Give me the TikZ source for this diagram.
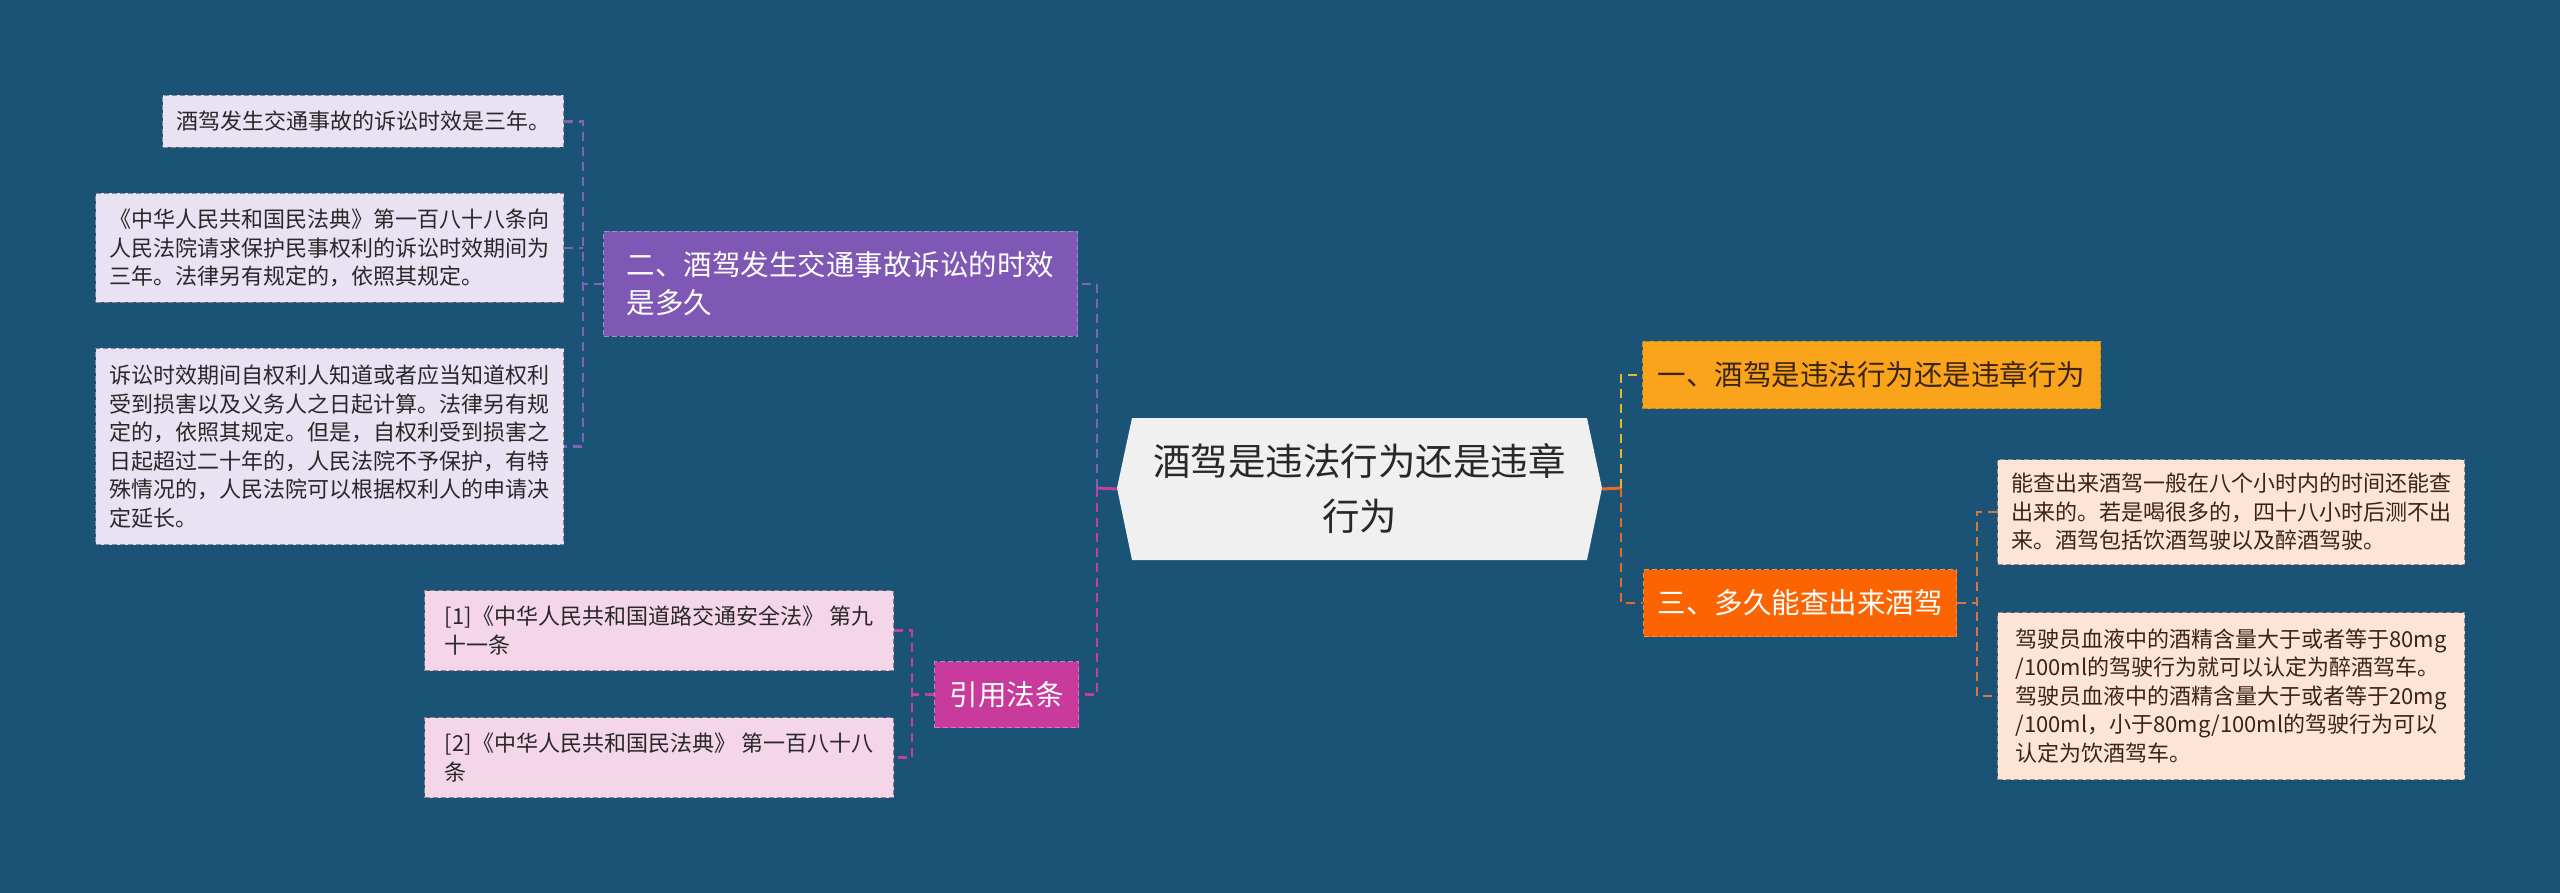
\documentclass[tikz,border=0pt]{standalone}
\usepackage{fontspec}
\setmainfont{Noto Sans CJK SC}
\definecolor{bg}{RGB}{26,83,118}
\definecolor{purp}{RGB}{126,88,180}
\definecolor{lav}{RGB}{232,226,242}
\definecolor{mag}{RGB}{200,58,155}
\definecolor{pink}{RGB}{245,214,232}
\definecolor{amber}{RGB}{249,164,27}
\definecolor{orng}{RGB}{252,100,2}
\definecolor{peach}{RGB}{253,228,214}
\definecolor{rootfill}{RGB}{240,240,240}
\definecolor{cpur}{RGB}{128,98,184}
\definecolor{cmag}{RGB}{198,62,156}
\definecolor{camb}{RGB}{240,178,40}
\definecolor{cor}{RGB}{236,104,36}
\definecolor{cbr}{RGB}{214,118,62}
\definecolor{darktext}{RGB}{40,40,40}
\definecolor{browntext}{RGB}{60,36,20}
\tikzset{
  box/.style={rectangle, anchor=north west, inner sep=0pt, align=left,
    line width=1pt, dash pattern=on 5pt off 3pt},
  small/.style={font=\fontsize{22}{28.5}\selectfont},
  big/.style={font=\fontsize{28.5}{38}\selectfont},
  conn/.style={line width=2.6pt, dash pattern=on 9pt off 6pt},
  solidconn/.style={line width=3pt},
}
\begin{document}
\begin{tikzpicture}[x=1pt,y=-1pt]
\useasboundingbox (0,0) rectangle (2560,893);
\fill[bg] (0,0) rectangle (2560,893);

% root
\fill[rootfill] (1117,488) -- (1132,418) -- (1587,418) -- (1602,488) -- (1587,560) -- (1132,560) -- cycle;
\node[minimum width=485pt, minimum height=142pt, inner sep=0pt, align=center,
  text=darktext, font=\fontsize{37.5}{55}\selectfont] (root) at (1359.5,489)
  {酒驾是违法行为还是违章\\行为};

% left level 1
\node[box, big, fill=purp, draw=purp!70!white, text=white,
  minimum width=474pt, minimum height=105pt] (p) at (603,231)
  {二、酒驾发生交通事故诉讼的时效\\是多久};
\node[box, big, fill=mag, draw=mag!70!white, text=white,
  minimum width=144pt, minimum height=66pt] (cite) at (934,661)
  {引用法条};

% left children of p
\node[box, small, fill=lav, draw=lav!60!black, text=darktext,
  minimum width=401pt, minimum height=52pt] (c1) at (162,95)
  {酒驾发生交通事故的诉讼时效是三年。};
\node[box, small, fill=lav, draw=lav!60!black, text=darktext,
  minimum width=468pt, minimum height=109pt] (c2) at (95,193)
  {《中华人民共和国民法典》第一百八十八条向\\人民法院请求保护民事权利的诉讼时效期间为\\三年。法律另有规定的，依照其规定。};
\node[box, small, fill=lav, draw=lav!60!black, text=darktext,
  minimum width=468pt, minimum height=196pt] (c3) at (95,348)
  {诉讼时效期间自权利人知道或者应当知道权利\\受到损害以及义务人之日起计算。法律另有规\\定的，依照其规定。但是，自权利受到损害之\\日起超过二十年的，人民法院不予保护，有特\\殊情况的，人民法院可以根据权利人的申请决\\定延长。};

% cite children
\node[box, small, fill=pink, draw=pink!60!black, text=darktext,
  minimum width=469pt, minimum height=80pt] (r1) at (424,590)
  {[1]《中华人民共和国道路交通安全法》 第九\\十一条};
\node[box, small, fill=pink, draw=pink!60!black, text=darktext,
  minimum width=469pt, minimum height=80pt] (r2) at (424,717)
  {[2]《中华人民共和国民法典》 第一百八十八\\条};

% right level 1
\node[box, big, fill=amber, draw=amber!80!black, text=browntext,
  minimum width=458pt, minimum height=67pt] (o1) at (1642,341)
  {一、酒驾是违法行为还是违章行为};
\node[box, big, fill=orng, draw=orng!75!white, text=white,
  minimum width=313pt, minimum height=67pt] (o2) at (1643,569)
  {三、多久能查出来酒驾};

% right children
\node[box, small, fill=peach, draw=peach!60!black, text=browntext,
  minimum width=467pt, minimum height=105pt] (e1) at (1997,459)
  {能查出来酒驾一般在八个小时内的时间还能查\\出来的。若是喝很多的，四十八小时后测不出\\来。酒驾包括饮酒驾驶以及醉酒驾驶。};
\node[box, small, fill=peach, draw=peach!60!black, text=browntext,
  minimum width=467pt, minimum height=167pt] (e2) at (1997,612)
  {驾驶员血液中的酒精含量大于或者等于80mg\\/100ml的驾驶行为就可以认定为醉酒驾车。\\驾驶员血液中的酒精含量大于或者等于20mg\\/100ml，小于80mg/100ml的驾驶行为可以\\认定为饮酒驾车。};

% bus coordinates
\coordinate (bL) at (1097,488);
\coordinate (bR) at (1621,488);
\coordinate (bP) at (583,283);
\coordinate (bC) at (912,694);
\coordinate (bE) at (1977,603);

% root connectors
\draw[solidconn, cmag] (root.west) -- (bL);
\draw[solidconn, cor] (root.east) -- (bR);
\draw[conn, cpur] (bL) -- (p.east -| bL) -- (p.east);
\draw[conn, cmag] (bL) -- (cite.east -| bL) -- (cite.east);
\draw[conn, camb] (bR) -- (o1.west -| bR) -- (o1.west);
\draw[conn, cor] (bR) -- (o2.west -| bR) -- (o2.west);

% p children
\draw[conn, cpur] (c1.east) -- (c1.east -| bP) -- (c3.east -| bP) -- (c3.east);
\draw[conn, cpur] (c2.east) -- (c2.east -| bP);
\draw[conn, cpur] (p.west) -- (p.west -| bP);

% cite children
\draw[conn, cmag] (r1.east) -- (r1.east -| bC) -- (r2.east -| bC) -- (r2.east);
\draw[conn, cmag] (cite.west) -- (cite.west -| bC);

% o2 children
\draw[conn, cbr] (e1.west) -- (e1.west -| bE) -- (e2.west -| bE) -- (e2.west);
\draw[conn, cbr] (o2.east) -- (o2.east -| bE);
\end{tikzpicture}
\end{document}
